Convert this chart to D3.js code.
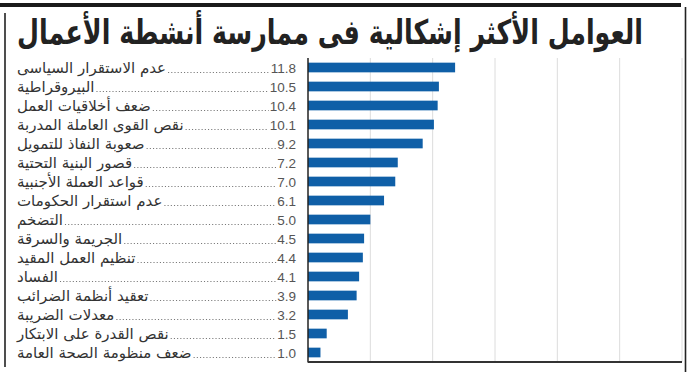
<!DOCTYPE html>
<html><head><meta charset="utf-8">
<script src="https://cdn.jsdelivr.net/npm/d3@7"></script>
<style>html,body{margin:0;padding:0;background:#fff;}svg{display:block;}</style>
</head><body>
<script>
const title = "العوامل الأكثر إشكالية فى ممارسة أنشطة الأعمال";
const categories = [
  "عدم الاستقرار السياسى",
  "البيروقراطية",
  "ضعف أخلاقيات العمل",
  "نقص القوى العاملة المدربة",
  "صعوبة النفاذ للتمويل",
  "قصور البنية التحتية",
  "قواعد العملة الأجنبية",
  "عدم استقرار الحكومات",
  "التضخم",
  "الجريمة والسرقة",
  "تنظيم العمل المقيد",
  "الفساد",
  "تعقيد أنظمة الضرائب",
  "معدلات الضريبة",
  "نقص القدرة على الابتكار",
  "ضعف منظومة الصحة العامة"
];
const values = [11.8, 10.5, 10.4, 10.1, 9.2, 7.2, 7.0, 6.1, 5.0, 4.5, 4.4, 4.1, 3.9, 3.2, 1.5, 1.0];
const valueLabels = ["11.8","10.5","10.4","10.1","9.2","7.2","7.0","6.1","5.0","4.5","4.4","4.1","3.9","3.2","1.5","1.0"];
const gridTicks = [5, 10, 15, 20, 25, 30];

const W = 688, H = 372;
const svg = d3.select("body").append("svg").attr("width", W).attr("height", H);

// frame
svg.append("rect").attr("x", 0).attr("y", 3).attr("width", 681).attr("height", 4).attr("fill", "#1a1a1a");
svg.append("line").attr("x1", 5).attr("x2", 5).attr("y1", 13).attr("y2", 367).attr("stroke", "#222").attr("stroke-width", 1.6);
svg.append("line").attr("x1", 685.5).attr("x2", 685.5).attr("y1", 7).attr("y2", 372).attr("stroke", "#222").attr("stroke-width", 1.6);

// title (horizontally condensed to fit the reference width)
const tg = svg.append("g");
const tt = tg.append("text").attr("x", 0).attr("y", 0)
  .attr("direction", "rtl").attr("text-anchor", "middle")
  .attr("font-family", "DejaVu Sans").attr("font-weight", "bold").attr("font-size", 34)
  .attr("fill", "#222").text(title);
const tw = tt.node().getComputedTextLength();
tg.attr("transform", `translate(330,44) scale(${626 / tw},1)`);

const x = d3.scaleLinear().domain([0, 30]).range([308, 682]);
const y = d3.scaleBand().domain(categories).range([58, 362]).paddingInner(0.49).paddingOuter(0.245);

// grid
svg.append("g").selectAll("line").data(gridTicks).join("line")
  .attr("x1", d => x(d)).attr("x2", d => x(d)).attr("y1", 58).attr("y2", 362)
  .attr("stroke", "#dcdcdc").attr("stroke-width", 1);

// bars
svg.append("g").selectAll("rect").data(values).join("rect")
  .attr("x", x(0)).attr("y", (d, i) => y(categories[i]))
  .attr("width", d => x(d) - x(0)).attr("height", y.bandwidth())
  .attr("fill", "#0f5fa7");

// axes lines
svg.append("line").attr("x1", x(0)).attr("x2", x(0)).attr("y1", 58).attr("y2", 362.5).attr("stroke", "#222").attr("stroke-width", 1.5);
svg.append("line").attr("x1", x(0)).attr("x2", x(30)).attr("y1", 362).attr("y2", 362).attr("stroke", "#333").attr("stroke-width", 2);

// labels
const rows = svg.append("g").selectAll("g").data(categories).join("g")
  .attr("transform", d => `translate(0,${y(d) + y.bandwidth() / 2 + 5.5})`);
const numRight = 296;
rows.append("text").attr("class", "num").attr("x", numRight).attr("y", 0)
  .attr("text-anchor", "end").attr("font-family", "Liberation Sans").attr("font-size", 13.5)
  .attr("fill", "#555").text((d, i) => valueLabels[i]);
rows.append("text").attr("class", "lab").attr("x", 17).attr("y", 0)
  .attr("font-family", "DejaVu Sans").attr("font-size", 15)
  .attr("fill", "#333").text(d => d);
rows.each(function () {
  const g = d3.select(this);
  const lw = g.select(".lab").node().getComputedTextLength();
  const nw = g.select(".num").node().getComputedTextLength();
  const x1 = 17 + lw + 2, x2 = numRight - nw - 1;
  g.append("line").attr("x1", x1).attr("x2", x2).attr("y1", -0.5).attr("y2", -0.5)
    .attr("stroke", "#777").attr("stroke-width", 1.1).attr("stroke-dasharray", "1.1,2.1");
});
</script>
</body></html>
